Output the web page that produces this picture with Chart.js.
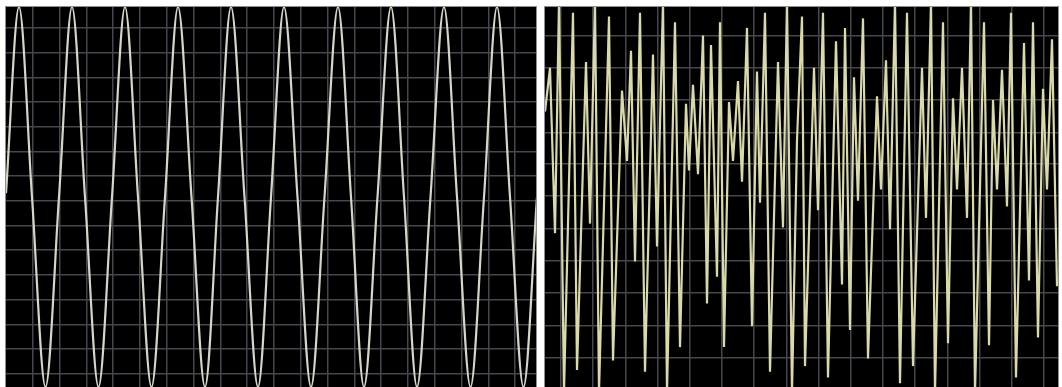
<!DOCTYPE html>
<html>
<head>
<meta charset="utf-8">
<script src="https://cdn.jsdelivr.net/npm/chart.js@4.4.0/dist/chart.umd.min.js"></script>
<style>
  html, body { margin: 0; padding: 0; background: #fff; width: 1062px; height: 387px; overflow: hidden; }
  .scope { position: absolute; background: #000; border: 1px solid #8e8e8e; border-bottom: none; }
  #left  { left: 5px;   top: 6px; width: 530px; height: 381px; }
  #right { left: 544px; top: 6px; width: 513px; height: 381px; }
  canvas { display: block; }
</style>
</head>
<body>
<div class="scope" id="left"><canvas id="pure" width="530" height="380"></canvas></div>
<div class="scope" id="right"><canvas id="mixed" width="513" height="380"></canvas></div>
<script>
// Pure tone: sample times (µs) of crests, zero crossings and troughs
const toneTimes = [0, 13, 26, 39.5, 53, 66, 79, 92.5, 106, 119, 132, 145.5, 159, 172, 185.5, 199,
  212, 225, 238.5, 252, 265, 278, 291.5, 305, 318.5, 332, 345, 358, 371.5, 385, 398, 411,
  424.5, 438, 451, 464.5, 478, 491, 504, 517.5, 531];
const toneValues = [2, 100, 0, -100, 0, 100, 0, -100, 0, 100, 0, -100, 0, 100, 0, -100,
  0, 100, 0, -100, 0, 100, 0, -100, 0, 100, 0, -100, 0, 100, 0, -100,
  0, 100, 0, -100, 0, 100, 0, -100, 0];

// Composite signal: sampled extremes (µs, amplitude)
const mixTimes = [0, 5, 10, 14, 19, 28, 32, 41, 45, 50, 54, 64, 68, 77, 82, 86, 90, 95, 100, 108,
  112, 118, 122, 130, 135, 141, 144, 148, 153, 158, 162, 166, 172, 175, 179, 184, 188, 193, 197, 202,
  207, 212, 215, 220, 225, 233, 238, 242, 247, 252, 257, 260, 269, 273, 278, 283, 291, 297, 300, 305, 309,
  313, 318, 323, 332, 336, 341, 345, 350, 355, 362, 368, 377, 381, 386, 390, 398, 403, 408, 412, 417,
  422, 426, 430, 439, 444, 448, 452, 457, 462, 466, 471, 479, 484, 488, 493, 498, 502, 507, 512];
const mixValues = [45, 68, -19, 103, -103, 97, -91, 71, -14, 103, -103, 95, -86, 56, 19, 77, -34, 97, -92, 75,
  -26, 103, -103, 92, -79, 49, 14, 59, 12, 85, -56, 80, -42, 92, -79, 50, 19, 61, 8, 89,
  -68, 66, -3, 97, -92, 71, -16, 103, -103, 30, 95, -89, 68, -7, 97, -95, 82, -46, 89, -70, 63,
  -2, 94, -85, 53, 4, 72, -17, 103, -98, 97, -89, 68, -11, 103, -103, 92, -77, 52, 4, 68,
  -11, 103, -103, 92, -78, 51, 4, 67, -5, 97, -95, 81, -44, 92, -74, 57, 4, 83, -47];

// Graticule divisions
const toneGridX = [26.8, 53.6, 80.4, 107.2, 134, 160.8, 187.6, 214.4, 241.2, 268, 294.8, 321.6,
  348.4, 375.2, 402, 428.8, 455.6, 482.4, 509.2];
const toneGridY = [89, 76, 63, 50, 37, 24, 11, -2, -15, -28, -41, -54, -67, -80, -93];
const mixGridX = [16, 48.2, 80.4, 112.6, 144.8, 177, 209.2, 241.4, 273.6, 305.8, 338, 370.2,
  402.4, 434.6, 466.8, 499];
const mixGridY = [85, 68, 51, 34, 17.5, 0.5, -16.5, -33.5, -50.5, -67.5, -84.5];

const GRID = '#47474d';

function axis(min, max, lines) {
  return {
    type: 'linear', min: min, max: max,
    ticks: { display: false },
    grid: { color: GRID, lineWidth: 1.5, drawTicks: false },
    border: { display: false },
    afterBuildTicks: a => { a.ticks = lines.map(v => ({ value: v })); }
  };
}

function scope(id, times, values, xMax, gridX, gridY, color, width, smooth) {
  return new Chart(document.getElementById(id), {
    type: 'line',
    data: {
      datasets: [{
        data: times.map((t, i) => ({ x: t, y: values[i] })),
        borderColor: color,
        borderWidth: width,
        pointRadius: 0,
        fill: false,
        tension: 0,
        cubicInterpolationMode: smooth ? 'monotone' : 'default'
      }]
    },
    options: {
      responsive: false,
      animation: false,
      devicePixelRatio: 1,
      layout: { padding: 0 },
      plugins: { legend: { display: false }, tooltip: { enabled: false } },
      scales: {
        x: axis(0, xMax, gridX),
        y: axis(-100, 100, gridY)
      }
    }
  });
}

scope('pure', toneTimes, toneValues, 530, toneGridX, toneGridY, '#d6d6c8', 2.2, true);
scope('mixed', mixTimes, mixValues, 513, mixGridX, mixGridY, '#d9d9a9', 2.2, false);
</script>
</body>
</html>
